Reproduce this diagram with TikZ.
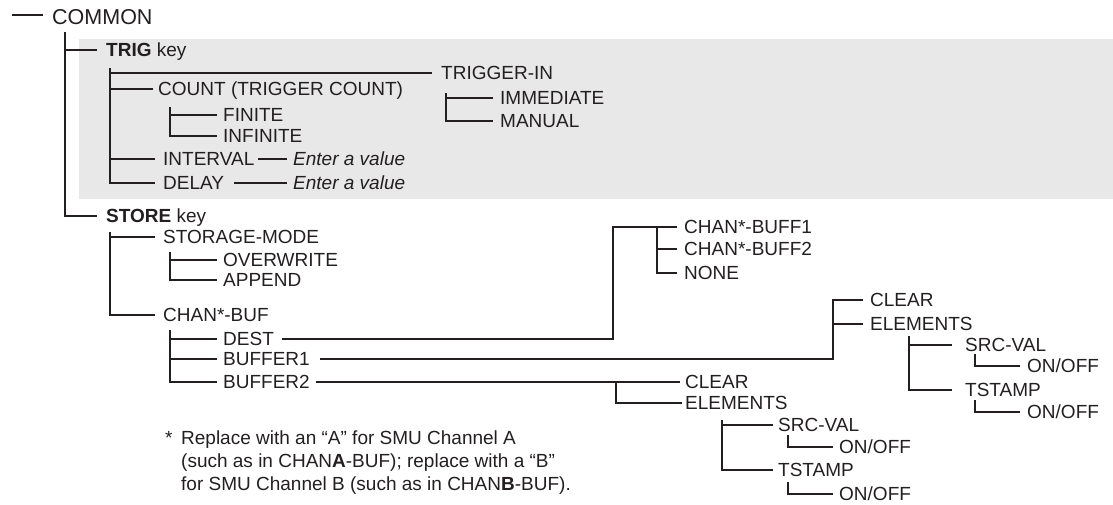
\documentclass[tikz,border=0pt]{standalone}
\usepackage{fontspec}
\setmainfont{Liberation Sans}
\definecolor{ink}{HTML}{231F20}
\definecolor{panel}{HTML}{E8E8E8}
\tikzset{
  lbl/.style={anchor=west, inner sep=0pt, text height=13.6pt, text depth=0pt,
              font=\fontsize{19}{23}\selectfont, text=ink},
  biglbl/.style={lbl, text height=15.4pt, font=\fontsize{21.5}{25}\selectfont},
  ln/.style={draw=ink, line width=1.6pt},
  note/.style={anchor=base west, inner sep=0pt, font=\fontsize{19}{23}\selectfont, text=ink}
}
\begin{document}
\begin{tikzpicture}[x=1pt,y=-1pt]
\useasboundingbox (0,0) rectangle (1113,504);
\fill[panel] (79,39) rectangle (1113,199);

% ---- nodes ----
\node[biglbl] (common) at (52,17) {COMMON};
\node[lbl] (trig) at (106,50) {\textbf{TRIG} key};
\node[lbl] (trigin) at (441,73) {TRIGGER-IN};
\node[lbl] (count) at (158,89) {COUNT (TRIGGER COUNT)};
\node[lbl] (finite) at (223,115) {FINITE};
\node[lbl] (infinite) at (223,136) {INFINITE};
\node[lbl] (interval) at (163,159) {INTERVAL};
\node[lbl] (ival) at (293,159) {\itshape Enter a value};
\node[lbl] (delay) at (163,183) {DELAY};
\node[lbl] (dval) at (293,183) {\itshape Enter a value};
\node[lbl] (immediate) at (500,98) {IMMEDIATE};
\node[lbl] (manual) at (500,121) {MANUAL};

\node[lbl] (store) at (106,216) {\textbf{STORE} key};
\node[lbl] (smode) at (163,237) {STORAGE-MODE};
\node[lbl] (overwrite) at (223,260) {OVERWRITE};
\node[lbl] (append) at (223,280) {APPEND};
\node[lbl] (chanbuf) at (163,315) {CHAN*-BUF};
\node[lbl] (dest) at (223,339) {DEST};
\node[lbl] (buf1) at (223,359) {BUFFER1};
\node[lbl] (buf2) at (223,382) {BUFFER2};

\node[lbl] (cb1) at (684,227) {CHAN*-BUFF1};
\node[lbl] (cb2) at (684,249) {CHAN*-BUFF2};
\node[lbl] (none) at (684,273) {NONE};

\node[lbl] (clear1) at (870,300) {CLEAR};
\node[lbl] (elem1) at (870,324) {ELEMENTS};
\node[lbl] (src1) at (965,345) {SRC-VAL};
\node[lbl] (on1) at (1027,366) {ON/OFF};
\node[lbl] (ts1) at (965,390) {TSTAMP};
\node[lbl] (on2) at (1027,412) {ON/OFF};

\node[lbl] (clear2) at (685,382) {CLEAR};
\node[lbl] (elem2) at (685,403) {ELEMENTS};
\node[lbl] (src2) at (778,425) {SRC-VAL};
\node[lbl] (on3) at (839,447) {ON/OFF};
\node[lbl] (ts2) at (778,470) {TSTAMP};
\node[lbl] (on4) at (839,494) {ON/OFF};

\node[note] (foot) at (165,444) {\begin{tabular}[t]{@{}l@{\hspace{8.6pt}}l@{}}
* & Replace with an “A” for SMU Channel A\\
  & (such as in CHAN\textbf{A}-BUF); replace with a “B”\\
  & for SMU Channel B (such as in CHAN\textbf{B}-BUF).
\end{tabular}};

% ---- branch points ----
\coordinate (tA) at (65,32);
\coordinate (tB) at (110,68);
\coordinate (cA) at (170,107);
\coordinate (iA) at (446,93);
\coordinate (sA) at (110,232);
\coordinate (sB) at (170,252);
\coordinate (sC) at (170,330);
\coordinate (dA) at (613,227);
\coordinate (dB) at (657,227);
\coordinate (bA) at (833,300);
\coordinate (eA) at (909,336);
\coordinate (oA) at (975,354);
\coordinate (oB) at (975,400);
\coordinate (bB) at (616,382);
\coordinate (eB) at (722,420);
\coordinate (oC) at (788,435);
\coordinate (oD) at (788,482);

% ---- connectors ----
\draw[ln] ([xshift=-9pt,yshift=2pt]common.west) -- ++(-31,0);
\draw[ln] (tA) |- ([xshift=-9pt]store.west);
\draw[ln] ([xshift=-9pt]trig.west) -| (tA);

\draw[ln] (tB) |- ([xshift=-8pt]delay.west);
\draw[ln] ([xshift=-9pt]trigin.west) -| (tB);
\draw[ln] ([xshift=-5pt]count.west) -| (tB);
\draw[ln] ([xshift=-8pt]interval.west) -| (tB);
\draw[ln] (cA) |- ([xshift=-6pt]infinite.west);
\draw[ln] ([xshift=-6pt]finite.west) -| (cA);
\draw[ln] ([xshift=3pt]interval.east) -- ([xshift=-6pt]ival.west);
\draw[ln] ([xshift=10pt]delay.east) -- ([xshift=-6pt]dval.west);
\draw[ln] (iA) |- ([xshift=-7pt]manual.west);
\draw[ln] ([xshift=-7pt]immediate.west) -| (iA);

\draw[ln] (sA) |- ([xshift=-8pt]chanbuf.west);
\draw[ln] ([xshift=-8pt]smode.west) -| (sA);
\draw[ln] (sB) |- ([xshift=-6pt]append.west);
\draw[ln] ([xshift=-6pt]overwrite.west) -| (sB);
\draw[ln] (sC) |- ([xshift=-6pt]buf2.west);
\draw[ln] ([xshift=-6pt]dest.west) -| (sC);
\draw[ln] ([xshift=-6pt]buf1.west) -| (sC);

\draw[ln] ([xshift=8pt]dest.east) -| (dA) -- ([xshift=-7pt]cb1.west);
\draw[ln] (dB) |- ([xshift=-7pt]none.west);
\draw[ln] (dB |- cb2.west) -- ([xshift=-7pt]cb2.west);

\draw[ln] ([xshift=10pt]buf1.east) -| (bA) -- ([xshift=-7pt]clear1.west);
\draw[ln] (bA |- elem1.west) -- ([xshift=-7pt]elem1.west);
\draw[ln] (eA) |- ([xshift=-13pt]ts1.west);
\draw[ln] ([xshift=-13pt]src1.west) -| (eA);
\draw[ln] (oA) |- ([xshift=-7pt]on1.west);
\draw[ln] (oB) |- ([xshift=-7pt]on2.west);

\draw[ln] ([xshift=6pt]buf2.east) -- ([xshift=-5pt]clear2.west);
\draw[ln] (bB) |- ([xshift=-3pt]elem2.west);
\draw[ln] (eB) |- ([xshift=-5pt]ts2.west);
\draw[ln] ([xshift=-5pt]src2.west) -| (eB);
\draw[ln] (oC) |- ([xshift=-6pt]on3.west);
\draw[ln] (oD) |- ([xshift=-6pt]on4.west);
\end{tikzpicture}
\end{document}
